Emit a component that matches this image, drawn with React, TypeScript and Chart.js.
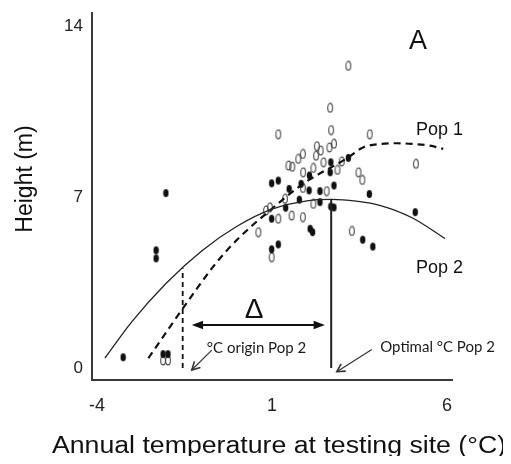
import React, { useEffect, useRef } from "react";
import { Chart, registerables } from "chart.js";

Chart.register(...registerables);

// ---- axes ----
const X_TICKS = [-4, 1, 6];
const Y_TICKS = [0, 7, 14];
const X_RANGE = [-4.14, 6.14];
const Y_RANGE = [-0.49, 14.53];

// ---- observations (filled = Pop 2, open = Pop 1) ----
const FILLED_X = [-3.25, -2.11, -1.97, -2.03, -2.31, -2.31, 0.99, 1.18, 0.99, 1.18, 0.99, 1.49, 1.83, 2.07, 2.06, 2.37, 2.66, 2.68, 2.77, 3.18, 3.78, 1.78, 2.37, 2.68, 2.77, 1.39, 2.09, 2.16, 3.59, 3.88, 5.09];
const FILLED_Y = [0.44, 0.57, 0.57, 7.16, 4.82, 4.49, 7.56, 7.67, 6.11, 5.06, 4.86, 7.33, 7.54, 7.88, 7.27, 7.24, 8.01, 8.42, 7.47, 8.6, 7.12, 6.89, 6.79, 6.61, 6.57, 6.56, 5.7, 5.56, 5.25, 4.97, 6.38];
const OPEN_X = [3.18, 2.66, 1.18, 2.69, 3.79, 5.11, 2.77, 2.64, 2.28, 2.39, 2.26, 1.88, 1.75, 1.47, 1.58, 2.47, 2.18, 1.89, 2.99, 2.87, 3.47, 3.58, 2.56, 2.18, 1.37, 1.18, 1.56, 1.88, 0.61, 3.28, 0.99, -2.11, -1.97, 0.94, 0.83, 1.88];
const OPEN_Y = [12.37, 10.65, 9.57, 9.74, 9.57, 8.36, 9.18, 9.03, 9.08, 8.9, 8.69, 8.76, 8.56, 8.29, 8.24, 8.42, 8.19, 8.01, 8.46, 8.11, 8.01, 7.7, 7.24, 6.72, 6.93, 6.11, 6.24, 6.18, 5.56, 5.61, 4.54, 0.31, 0.31, 6.58, 6.45, 7.37];

// ---- fitted curves ----
const POP1_X = [-2.53, -2.11, -1.58, -1.11, -0.69, -0.2, 0.28, 0.66, 1.9, 3.17, 3.6, 4.09, 4.57, 5.03, 5.51, 5.89];
const POP1_Y = [0.4, 1.28, 2.37, 3.32, 4.13, 4.95, 5.63, 6.11, 7.55, 8.61, 9.03, 9.17, 9.2, 9.17, 9.1, 8.97];
const POP2_X = [-3.77, -3, -2, -1, 0, 1, 2, 2.7, 3.4, 4.1, 5, 5.94];
const POP2_Y = [0.41, 1.9, 3.5, 4.8, 5.8, 6.5, 6.84, 6.9, 6.83, 6.65, 6.15, 5.3];

// ---- reference temperatures ----
const ORIGIN_X = [-1.55, -1.55];
const ORIGIN_Y = [0, 4.08];
const OPTIMAL_X = [2.69, 2.69];
const OPTIMAL_Y = [0, 6.9];
const DELTA_X = [-1.29, 2.51];
const DELTA_Y = 1.76;

const LABELS = {
  panel: "A",
  pop1: "Pop 1",
  pop2: "Pop 2",
  delta: "\u0394",
  origin: "\u00B0C origin Pop 2",
  optimal: "Optimal \u00B0C Pop 2",
  xTitle: "Annual temperature at testing site (\u00B0C)",
  yTitle: "Height (m)",
};

const SANS = '"Liberation Sans", Arial, sans-serif';
const CAL = 'Lato, "Open Sans", sans-serif';

function zip(xs: number[], ys: number[]) {
  return xs.map((x, i) => ({ x, y: ys[i] }));
}

function makeOval(filled: boolean): HTMLCanvasElement {
  const c = document.createElement("canvas");
  c.width = filled ? 7 : 8;
  c.height = filled ? 10 : 11;
  const g = c.getContext("2d")!;
  g.beginPath();
  if (filled) {
    g.ellipse(3.5, 5, 2.7, 4.1, 0, 0, Math.PI * 2);
    g.fillStyle = "#111";
    g.fill();
  } else {
    g.ellipse(4, 5.5, 2.4, 4.4, 0, 0, Math.PI * 2);
    g.strokeStyle = "#4a4a4a";
    g.lineWidth = 1.1;
    g.stroke();
  }
  return c;
}

function arrowHead(ctx: CanvasRenderingContext2D, x: number, y: number, ang: number, len: number, half: number, filled: boolean) {
  ctx.beginPath();
  ctx.moveTo(x + len * Math.cos(ang + half), y + len * Math.sin(ang + half));
  ctx.lineTo(x, y);
  ctx.lineTo(x + len * Math.cos(ang - half), y + len * Math.sin(ang - half));
  if (filled) {
    ctx.closePath();
    ctx.fill();
  } else {
    ctx.stroke();
  }
}

const annotationPlugin = {
  id: "annotations",
  afterDatasetsDraw(chart: any) {
    const ctx: CanvasRenderingContext2D = chart.ctx;
    const xs = chart.scales.x;
    const ys = chart.scales.y;
    const px = (v: number) => xs.getPixelForValue(v);
    const py = (v: number) => ys.getPixelForValue(v);
    ctx.save();
    ctx.fillStyle = "#111";
    ctx.strokeStyle = "#111";

    // panel letter
    ctx.font = `27px ${SANS}`;
    ctx.textAlign = "center";
    ctx.textBaseline = "alphabetic";
    ctx.fillText(LABELS.panel, px(5.17), py(13.06));

    // population labels
    ctx.font = `18px ${SANS}`;
    ctx.textAlign = "left";
    ctx.fillText(LABELS.pop1, px(5.11), py(9.55));
    ctx.fillText(LABELS.pop2, px(5.11), py(3.9));

    // delta
    ctx.font = `28px ${SANS}`;
    ctx.textAlign = "center";
    ctx.fillText(LABELS.delta, px(0.49), py(2.04));

    // double arrow
    const y = py(DELTA_Y);
    const x0 = px(DELTA_X[0]);
    const x1 = px(DELTA_X[1]);
    ctx.lineWidth = 2.2;
    ctx.beginPath();
    ctx.moveTo(x0 + 6, y);
    ctx.lineTo(x1 - 6, y);
    ctx.stroke();
    arrowHead(ctx, x0, y, 0, 12, 0.36, true);
    arrowHead(ctx, x1, y, Math.PI, 12, 0.36, true);

    // small labels
    ctx.font = `15px ${CAL}`;
    ctx.textAlign = "left";
    ctx.fillStyle = "#1a1a1a";
    ctx.fillText(LABELS.origin, px(-0.86), py(0.62));
    ctx.fillText(LABELS.optimal, px(4.09), py(0.64));

    // pointer arrows
    ctx.strokeStyle = "#333";
    ctx.lineWidth = 1.2;
    const pointers = [
      [-0.72, 0.73, -1.29, -0.08],
      [3.85, 0.76, 2.85, -0.15],
    ];
    for (const [a, b, c, d] of pointers) {
      const sx = px(a), sy = py(b), ex = px(c), ey = py(d);
      ctx.beginPath();
      ctx.moveTo(sx, sy);
      ctx.lineTo(ex, ey);
      ctx.stroke();
      const ang = Math.atan2(sy - ey, sx - ex);
      ctx.lineWidth = 1.6;
      arrowHead(ctx, ex, ey, ang, 9, 0.5, false);
      ctx.lineWidth = 1.2;
    }

    // axis titles
    ctx.fillStyle = "#111";
    ctx.font = `23px ${SANS}`;
    ctx.textAlign = "center";
    ctx.save();
    ctx.translate(271, 445);
    ctx.scale(1.16, 1);
    ctx.fillText(LABELS.xTitle, 0, 0);
    ctx.restore();

    ctx.save();
    ctx.translate(23.5, 171);
    ctx.rotate(-Math.PI / 2);
    ctx.fillText(LABELS.yTitle, 0, 0);
    ctx.restore();

    ctx.restore();
  },
};

export default function App() {
  const ref = useRef<HTMLCanvasElement | null>(null);

  useEffect(() => {
    if (!ref.current) return;
    const filledImg = makeOval(true);
    const openImg = makeOval(false);
    const chart = new Chart(ref.current, {
      type: "scatter",
      data: {
        datasets: [
          {
            label: "Pop 2 fit",
            data: zip(POP2_X, POP2_Y),
            showLine: true,
            borderColor: "#222",
            borderWidth: 1.3,
            pointRadius: 0,
            cubicInterpolationMode: "monotone",
            fill: false,
          } as any,
          {
            label: "Pop 1 fit",
            data: zip(POP1_X, POP1_Y),
            showLine: true,
            borderColor: "#111",
            borderWidth: 2.2,
            borderDash: [7, 5],
            pointRadius: 0,
            cubicInterpolationMode: "monotone",
            fill: false,
          } as any,
          {
            label: "origin",
            data: zip(ORIGIN_X, ORIGIN_Y),
            showLine: true,
            borderColor: "#111",
            borderWidth: 1.8,
            borderDash: [5, 4],
            pointRadius: 0,
          } as any,
          {
            label: "optimal",
            data: zip(OPTIMAL_X, OPTIMAL_Y),
            showLine: true,
            borderColor: "#222",
            borderWidth: 2,
            pointRadius: 0,
          } as any,
          {
            label: "Pop 2",
            data: zip(FILLED_X, FILLED_Y),
            pointStyle: filledImg,
            pointRadius: 4,
          } as any,
          {
            label: "Pop 1",
            data: zip(OPEN_X, OPEN_Y),
            pointStyle: openImg,
            pointRadius: 4,
          } as any,
        ],
      },
      options: {
        responsive: false,
        animation: false,
        layout: { padding: { top: 4, right: 51, left: 0, bottom: 0 } },
        plugins: {
          legend: { display: false },
          tooltip: { enabled: false },
        },
        scales: {
          x: {
            type: "linear",
            min: X_RANGE[0],
            max: X_RANGE[1],
            grid: { display: false, drawTicks: false },
            border: { display: true, color: "#3a3a3a", width: 2 },
            ticks: {
              color: "#222",
              font: { size: 18, family: SANS },
              padding: 15,
              maxRotation: 0,
            },
            afterBuildTicks: (s: any) => {
              s.ticks = X_TICKS.map((v) => ({ value: v }));
            },
            afterFit: (s: any) => {
              s.height = 84;
              s.paddingLeft = 0;
              s.paddingRight = 0;
            },
          },
          y: {
            type: "linear",
            min: Y_RANGE[0],
            max: Y_RANGE[1],
            grid: { display: false, drawTicks: false },
            border: { display: true, color: "#3a3a3a", width: 2 },
            ticks: {
              color: "#222",
              font: { size: 17, family: SANS },
              padding: 9,
            },
            afterBuildTicks: (s: any) => {
              s.ticks = Y_TICKS.map((v) => ({ value: v }));
            },
            afterFit: (s: any) => {
              s.width = 84;
              s.paddingTop = 0;
              s.paddingBottom = 0;
            },
          },
        },
      } as any,
      plugins: [annotationPlugin],
    });
    return () => chart.destroy();
  }, []);

  return (
    <div style={{ width: 495, height: 448 }}>
      <canvas ref={ref} width={495} height={456} style={{ display: "block" }} />
    </div>
  );
}
